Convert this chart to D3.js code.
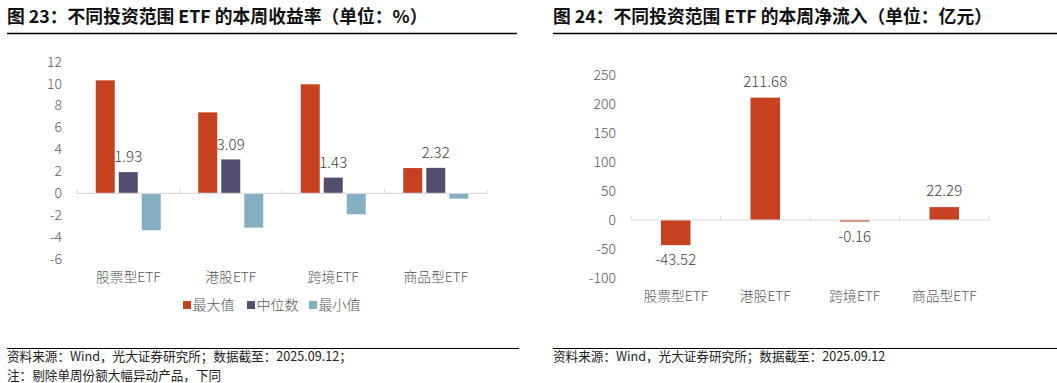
<!DOCTYPE html>
<html><head><meta charset="utf-8">
<script src="https://cdn.jsdelivr.net/npm/d3@7"></script>
<style>
body{margin:0;background:#fff;}
svg{display:block;font-family:"Noto Sans CJK SC","Noto Sans",sans-serif;}
.lt{font-weight:300;}
</style></head>
<body><svg id="c" width="1057" height="383"></svg>
<script>
const categories = ["股票型ETF","港股ETF","跨境ETF","商品型ETF"];
const seriesNames = ["最大值","中位数","最小值"];
const maxValues = [10.3, 7.38, 9.94, 2.30];
const medianValues = [1.93, 3.09, 1.43, 2.32];
const minValues = [-3.37, -3.13, -1.91, -0.49];
const leftTicks = [-6,-4,-2,0,2,4,6,8,10,12];
const netInflow = [-43.52, 211.68, -0.16, 22.29];
const rightTicks = [-100,-50,0,50,100,150,200,250];

const colors = ["#C5411F","#524E70","#85AEC3"];
const svg = d3.select("#c");
const tickColor = "#595959";

// Titles and rules
function header(x, x2, text){
  svg.append("text").attr("x",x).attr("y",23).attr("font-size",17.8).attr("font-weight","bold")
    .attr("fill","#111").text(text);
  svg.append("line").attr("x1",x).attr("x2",x2).attr("y1",33.5).attr("y2",33.5)
    .attr("stroke","#000").attr("stroke-width",1.3);
}
header(7, 517, "图 23：不同投资范围 ETF 的本周收益率（单位：%）");
header(553, 1057, "图 24：不同投资范围 ETF 的本周净流入（单位：亿元）");

function footer(x, x2, lines){
  svg.append("line").attr("x1",x).attr("x2",x2).attr("y1",348.5).attr("y2",348.5)
    .attr("stroke","#000").attr("stroke-width",1.2);
  lines.forEach((t,i)=>svg.append("text").attr("x",x).attr("y",361+i*18.5)
    .attr("font-size",12.6).attr("fill","#222").text(t));
}
footer(7, 519, ["资料来源：Wind，光大证券研究所；数据截至：2025.09.12；","注：剔除单周份额大幅异动产品，下同"]);
footer(553, 1057, ["资料来源：Wind，光大证券研究所；数据截至：2025.09.12"]);

// ---------- Left chart ----------
const yL = d3.scaleLinear().domain([-6,12]).range([259.1,61.7]);
const xL = d3.scaleBand().domain(categories).range([77,487]).padding(0);
const xSub = d3.scaleBand().domain(seriesNames).range([18.75, xL.bandwidth()-18.75]).paddingInner(0.174);
const gL = svg.append("g");
// y tick labels
gL.selectAll(".yt").data(leftTicks).join("text").attr("class","lt")
  .attr("x",62).attr("y",d=>yL(d)).attr("dy","0.35em").attr("text-anchor","end")
  .attr("font-size",14).attr("fill",tickColor).text(d=>d);
const seriesData = [maxValues, medianValues, minValues];
seriesNames.forEach((s,si)=>{
  gL.selectAll(".b"+si).data(categories).join("rect")
    .attr("x",c=>xL(c)+xSub(s)).attr("width",xSub.bandwidth())
    .attr("y",(c,i)=>yL(Math.max(0,seriesData[si][i])))
    .attr("height",(c,i)=>Math.abs(yL(seriesData[si][i])-yL(0)))
    .attr("fill",colors[si]);
});
// axis line and ticks
gL.append("line").attr("x1",77).attr("x2",487).attr("y1",yL(0)).attr("y2",yL(0))
  .attr("stroke","#d9d9d9").attr("stroke-width",1.2);
const bL = categories.map(c=>xL(c)).concat([487]);
gL.selectAll(".tk").data(bL).join("line").attr("x1",d=>d).attr("x2",d=>d)
  .attr("y1",yL(0)-4).attr("y2",yL(0)).attr("stroke","#d9d9d9").attr("stroke-width",1);
// median labels
gL.selectAll(".ml").data(categories).join("text").attr("class","lt")
  .attr("x",c=>xL(c)+xSub("中位数")+xSub.bandwidth()/2)
  .attr("y",(c,i)=>yL(medianValues[i])-15).attr("dy","0.35em").attr("text-anchor","middle")
  .attr("font-size",15).attr("fill","#404040").text((c,i)=>medianValues[i].toFixed(2));
// category labels
gL.selectAll(".cl").data(categories).join("text").attr("class","lt")
  .attr("x",c=>xL(c)+xL.bandwidth()/2).attr("y",277).attr("dy","0.35em").attr("text-anchor","middle")
  .attr("font-size",13.8).attr("fill",tickColor).text(c=>c);
// legend
const legX = [183, 247, 309];
seriesNames.forEach((s,i)=>{
  gL.append("rect").attr("x",legX[i]).attr("y",301).attr("width",8).attr("height",8).attr("fill",colors[i]);
  gL.append("text").attr("class","lt").attr("x",legX[i]+9.5).attr("y",305).attr("dy","0.35em")
    .attr("font-size",14).attr("fill",tickColor).text(s);
});

// ---------- Right chart ----------
const yR = d3.scaleLinear().domain([-100,250]).range([277.8,75.5]);
const xR = d3.scaleBand().domain(categories).range([631,989]).padding(0);
const gR = svg.append("g");
gR.selectAll(".yt").data(rightTicks).join("text").attr("class","lt")
  .attr("x",616).attr("y",d=>yR(d)).attr("dy","0.35em").attr("text-anchor","end")
  .attr("font-size",14).attr("fill",tickColor).text(d=>d);
const bw = xR.bandwidth()*0.33;
gR.selectAll(".bar").data(categories).join("rect")
  .attr("x",c=>xR(c)+xR.bandwidth()/2-bw/2).attr("width",bw)
  .attr("y",(c,i)=>yR(Math.max(0,netInflow[i])))
  .attr("height",(c,i)=>Math.max(1.5,Math.abs(yR(netInflow[i])-yR(0))))
  .attr("fill",colors[0]);
gR.append("line").attr("x1",631).attr("x2",989).attr("y1",yR(0)).attr("y2",yR(0))
  .attr("stroke","#d9d9d9").attr("stroke-width",1.2);
const bR = categories.map(c=>xR(c)).concat([989]);
gR.selectAll(".tk").data(bR).join("line").attr("x1",d=>d).attr("x2",d=>d)
  .attr("y1",yR(0)-4).attr("y2",yR(0)).attr("stroke","#d9d9d9").attr("stroke-width",1);
gR.selectAll(".vl").data(categories).join("text").attr("class","lt")
  .attr("x",c=>xR(c)+xR.bandwidth()/2)
  .attr("y",(c,i)=>netInflow[i]>=0 ? yR(netInflow[i])-16 : Math.max(yR(netInflow[i]),yR(0)+1.5)+15)
  .attr("dy","0.35em").attr("text-anchor","middle")
  .attr("font-size",15).attr("fill","#404040").text((c,i)=>netInflow[i].toFixed(2));
gR.selectAll(".cl").data(categories).join("text").attr("class","lt")
  .attr("x",c=>xR(c)+xR.bandwidth()/2).attr("y",296).attr("dy","0.35em").attr("text-anchor","middle")
  .attr("font-size",13.8).attr("fill",tickColor).text(c=>c);
</script></body></html>
